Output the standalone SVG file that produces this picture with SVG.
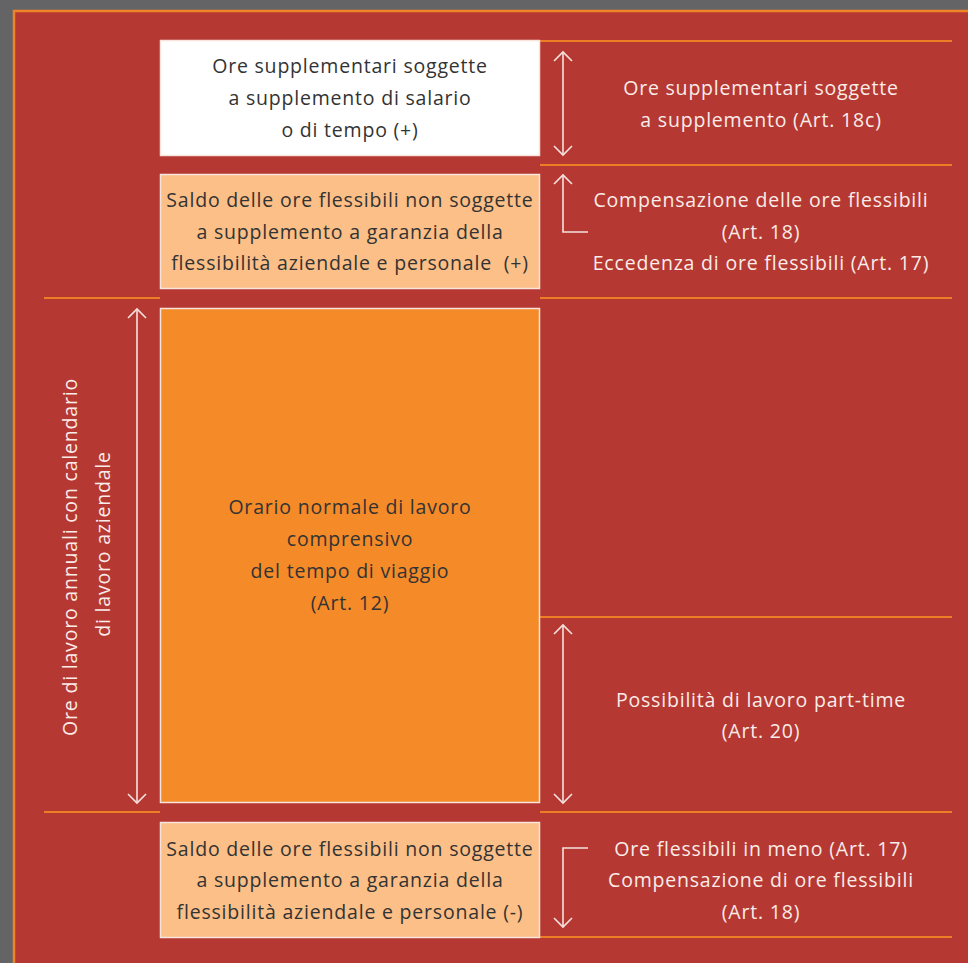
<svg xmlns="http://www.w3.org/2000/svg" width="968" height="963" viewBox="0 0 968 963">
<defs>
<style>
.bg{fill:#646466}
.frame{fill:#B53832;stroke:#EF8328;stroke-width:2.5}
.sep{stroke:#EE7D25;stroke-width:2;fill:none}
.box{stroke:#F7E4DC;stroke-width:1.5}
.white{fill:#FFFFFF}
.light{fill:#FBBF87}
.orange{fill:#F58A28}
text{font-family:"Open Sans","Liberation Sans",sans-serif;font-size:19.5px;letter-spacing:0.8px;text-anchor:middle}
.dark{fill:#333333}
.lt{fill:#FAECE8}
.arr{stroke:#F5E2DE;stroke-width:1.6;fill:none}
</style>
<marker id="ah" markerUnits="userSpaceOnUse" orient="auto-start-reverse" refX="0" refY="0" markerWidth="20" markerHeight="20" overflow="visible">
<path d="M-9,-9 L0,0 L-9,9" fill="none" stroke="#F5E2DE" stroke-width="1.6"/>
</marker>
</defs>
<rect class="bg" x="0" y="0" width="968" height="963"/>
<rect class="frame" x="14" y="11" width="1000" height="1000"/>
<g id="separators">
<line class="sep" x1="540" y1="41" x2="952" y2="41"/>
<line class="sep" x1="540" y1="165" x2="952" y2="165"/>
<line class="sep" x1="540" y1="298" x2="952" y2="298"/>
<line class="sep" x1="44" y1="298" x2="160" y2="298"/>
<line class="sep" x1="540" y1="617" x2="952" y2="617"/>
<line class="sep" x1="540" y1="812" x2="952" y2="812"/>
<line class="sep" x1="44" y1="812" x2="160" y2="812"/>
<line class="sep" x1="540" y1="937" x2="952" y2="937"/>
</g>
<g id="box-straordinari">
<rect class="box white" x="160.5" y="40.5" width="379" height="115"/>
<text class="dark" x="350" y="73">Ore supplementari soggette</text>
<text class="dark" x="350" y="105">a supplemento di salario</text>
<text class="dark" x="350" y="137">o di tempo (+)</text>
</g>
<g id="box-saldo-plus">
<rect class="box light" x="160.5" y="174.5" width="379" height="114"/>
<text class="dark" x="350" y="207">Saldo delle ore flessibili non soggette</text>
<text class="dark" x="350" y="239">a supplemento a garanzia della</text>
<text class="dark" x="350" y="270" xml:space="preserve">flessibilità aziendale e personale  (+)</text>
</g>
<g id="box-orario">
<rect class="box orange" x="160.5" y="308.5" width="379" height="494"/>
<text class="dark" x="350" y="514">Orario normale di lavoro</text>
<text class="dark" x="350" y="546">comprensivo</text>
<text class="dark" x="350" y="578">del tempo di viaggio</text>
<text class="dark" x="350" y="610">(Art. 12)</text>
</g>
<g id="box-saldo-minus">
<rect class="box light" x="160.5" y="822.5" width="379" height="115"/>
<text class="dark" x="350" y="856">Saldo delle ore flessibili non soggette</text>
<text class="dark" x="350" y="887">a supplemento a garanzia della</text>
<text class="dark" x="350" y="919">flessibilità aziendale e personale (-)</text>
</g>
<g id="label-ore-annuali">
<text class="lt" transform="translate(77,557) rotate(-90)" x="0" y="0">Ore di lavoro annuali con calendario</text>
<text class="lt" transform="translate(110,544) rotate(-90)" x="0" y="0">di lavoro aziendale</text>
</g>
<g id="label-supplemento">
<text class="lt" x="761" y="95">Ore supplementari soggette</text>
<text class="lt" x="761" y="127">a supplemento (Art. 18c)</text>
</g>
<g id="label-compensazione">
<text class="lt" x="761" y="207">Compensazione delle ore flessibili</text>
<text class="lt" x="761" y="239">(Art. 18)</text>
<text class="lt" x="761" y="270">Eccedenza di ore flessibili (Art. 17)</text>
</g>
<g id="label-parttime">
<text class="lt" x="761" y="707">Possibilità di lavoro part-time</text>
<text class="lt" x="761" y="738">(Art. 20)</text>
</g>
<g id="label-meno">
<text class="lt" x="761" y="856">Ore flessibili in meno (Art. 17)</text>
<text class="lt" x="761" y="887">Compensazione di ore flessibili</text>
<text class="lt" x="761" y="919">(Art. 18)</text>
</g>
<g id="connectors">
<line class="arr" x1="563" y1="52" x2="563" y2="155" marker-start="url(#ah)" marker-end="url(#ah)"/>
<path class="arr" d="M588,232 L563,232 L563,175" marker-end="url(#ah)"/>
<line class="arr" x1="137" y1="309" x2="137" y2="803" marker-start="url(#ah)" marker-end="url(#ah)"/>
<line class="arr" x1="563" y1="625" x2="563" y2="803" marker-start="url(#ah)" marker-end="url(#ah)"/>
<path class="arr" d="M588,848 L563,848 L563,927" marker-end="url(#ah)"/>
</g>
</svg>
